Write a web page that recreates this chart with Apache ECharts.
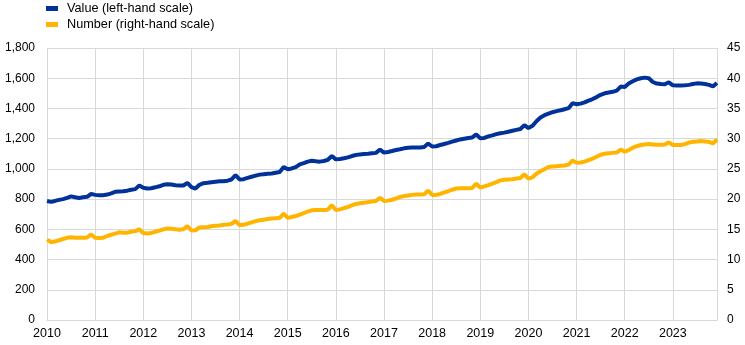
<!DOCTYPE html>
<html>
<head>
<meta charset="utf-8">
<script src="https://cdn.jsdelivr.net/npm/echarts@6/dist/echarts.min.js"></script>
<style>html,body{margin:0;padding:0;background:#fff}#c{width:745px;height:345px}</style>
</head>
<body>
<div id="c"></div>
<script>
var years = [2010,2011,2012,2013,2014,2015,2016,2017,2018,2019,2020,2021,2022,2023];
var seriesNames = ['Value (left-hand scale)', 'Number (right-hand scale)'];
var leftTicks = [0,200,400,600,800,1000,1200,1400,1600,1800];
var rightTicks = [0,5,10,15,20,25,30,35,40,45];

// Value (left-hand scale), monthly Jan..Dec per year
var value2010 = [788,782,788,795,800,808,818,812,808,812,815,835];
var value2011 = [828,825,826,830,838,848,850,852,856,862,866,890];
var value2012 = [875,870,872,878,885,895,898,897,892,890,890,908];
var value2013 = [880,870,895,905,908,912,915,918,918,922,930,958];
var value2014 = [930,932,940,948,955,962,965,968,970,975,980,1012];
var value2015 = [998,1003,1012,1030,1038,1048,1054,1050,1048,1052,1060,1085];
var value2016 = [1063,1065,1070,1076,1085,1092,1096,1098,1100,1103,1106,1128];
var value2017 = [1108,1112,1118,1125,1130,1136,1140,1141,1142,1142,1145,1168];
var value2018 = [1148,1150,1158,1165,1172,1180,1188,1195,1200,1205,1208,1228];
var value2019 = [1202,1205,1215,1222,1230,1236,1240,1246,1252,1258,1264,1290];
var value2020 = [1270,1285,1315,1340,1355,1365,1375,1382,1388,1395,1402,1435];
var value2021 = [1428,1432,1440,1452,1462,1475,1490,1500,1505,1510,1518,1545];
var value2022 = [1542,1565,1580,1592,1600,1604,1600,1575,1565,1562,1560,1573];
var value2023 = [1553,1552,1552,1553,1556,1562,1566,1565,1562,1556,1546,1568];

// Number (right-hand scale), monthly Jan..Dec per year
var number2010 = [13.3,12.9,13.0,13.2,13.4,13.6,13.7,13.6,13.6,13.6,13.65,14.15];
var number2011 = [13.6,13.55,13.6,13.9,14.1,14.3,14.5,14.45,14.45,14.6,14.7,15.0];
var number2012 = [14.4,14.3,14.4,14.6,14.8,15.0,15.15,15.1,15.0,14.95,15.0,15.55];
var number2013 = [14.8,14.85,15.3,15.35,15.4,15.5,15.6,15.65,15.75,15.8,15.9,16.4];
var number2014 = [15.7,15.75,15.95,16.15,16.35,16.5,16.6,16.7,16.8,16.85,16.9,17.6];
var number2015 = [16.9,17.05,17.2,17.45,17.7,17.95,18.15,18.2,18.2,18.2,18.25,19.0];
var number2016 = [18.2,18.3,18.5,18.7,18.95,19.2,19.3,19.4,19.5,19.6,19.7,20.2];
var number2017 = [19.7,19.75,19.9,20.1,20.35,20.5,20.6,20.7,20.75,20.75,20.8,21.4];
var number2018 = [20.7,20.7,20.85,21.1,21.3,21.55,21.75,21.8,21.8,21.8,21.85,22.55];
var number2019 = [21.9,22.1,22.3,22.55,22.8,23.1,23.2,23.25,23.3,23.4,23.5,24.1];
var number2020 = [23.4,23.6,24.2,24.6,24.95,25.3,25.4,25.45,25.5,25.55,25.7,26.4];
var number2021 = [26.0,26.05,26.2,26.45,26.7,27.0,27.35,27.5,27.6,27.65,27.7,28.2];
var number2022 = [27.85,28.1,28.5,28.75,28.95,29.05,29.1,29.05,29.0,29.0,29.05,29.4];
var number2023 = [28.95,28.95,28.95,29.1,29.35,29.5,29.55,29.6,29.55,29.45,29.2,29.9];

var valueData = [].concat(value2010,value2011,value2012,value2013,value2014,value2015,value2016,
  value2017,value2018,value2019,value2020,value2021,value2022,value2023);
var numberData = [].concat(number2010,number2011,number2012,number2013,number2014,number2015,number2016,
  number2017,number2018,number2019,number2020,number2021,number2022,number2023);

var categories = [];
years.forEach(function (y) {
  for (var m = 1; m <= 12; m++) categories.push(y + '-' + (m < 10 ? '0' + m : m));
});

var gridColor = '#d9d9d9';
var txt = {color: '#000', fontSize: 12, fontFamily: 'Liberation Sans, Arial, sans-serif'};
var yearTick = function (i) { return i % 12 === 0; };

var chart = echarts.init(document.getElementById('c'), null, {renderer: 'canvas'});
chart.setOption({
  animation: false,
  backgroundColor: '#fff',
  color: ['#003299', '#FFB400'],
  legend: {
    orient: 'vertical',
    left: 46,
    top: 0,
    padding: [2, 0, 0, 0],
    itemWidth: 12,
    itemHeight: 5,
    itemGap: 3,
    icon: 'rect',
    textStyle: {color: '#000', fontSize: 12.7, fontFamily: 'Liberation Sans, Arial, sans-serif', padding: [0, 0, 0, 4]},
    data: seriesNames
  },
  grid: {left: 47, right: 28, top: 48, bottom: 25, containLabel: false},
  xAxis: {
    type: 'category',
    boundaryGap: false,
    data: categories,
    axisLine: {show: true, lineStyle: {color: gridColor}},
    axisTick: {show: false, interval: yearTick},
    axisLabel: Object.assign({interval: yearTick, margin: 7, formatter: function (v) { return v.slice(0, 4); }}, txt, {fontSize: 12.5}),
    splitLine: {show: true, interval: yearTick, lineStyle: {color: gridColor, width: 1}}
  },
  yAxis: [{
    type: 'value',
    min: leftTicks[0], max: leftTicks[leftTicks.length - 1], interval: 200,
    axisLine: {show: false},
    axisTick: {show: false},
    axisLabel: Object.assign({margin: 12, formatter: function (v) { return v.toLocaleString('en-US'); }}, txt),
    splitLine: {show: true, lineStyle: {color: gridColor, width: 1}}
  }, {
    type: 'value',
    min: rightTicks[0], max: rightTicks[rightTicks.length - 1], interval: 5,
    axisLine: {show: true, lineStyle: {color: gridColor}},
    axisTick: {show: false},
    axisLabel: Object.assign({margin: 10}, txt),
    splitLine: {show: false}
  }],
  series: [{
    name: seriesNames[0],
    type: 'line',
    yAxisIndex: 0,
    data: valueData,
    showSymbol: false,
    lineStyle: {width: 4, color: '#003299'},
    itemStyle: {color: '#003299'}
  }, {
    name: seriesNames[1],
    type: 'line',
    yAxisIndex: 1,
    data: numberData,
    showSymbol: false,
    lineStyle: {width: 4, color: '#FFB400'},
    itemStyle: {color: '#FFB400'}
  }]
});
</script>
</body>
</html>
